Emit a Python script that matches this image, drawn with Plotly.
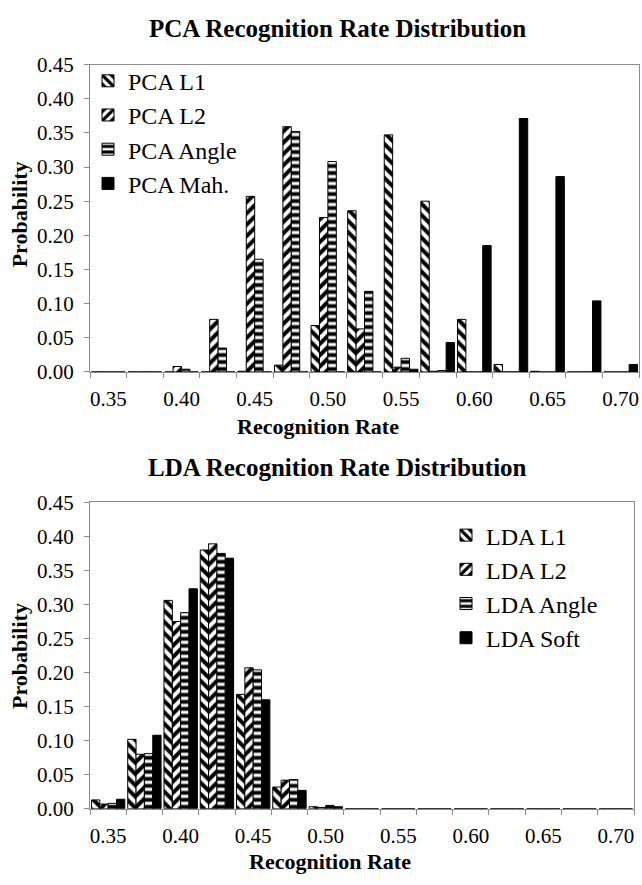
import plotly.graph_objects as go

W, H = 642, 885

# Category centres (recognition rate bins) and tick labels
rates = [0.35, 0.375, 0.40, 0.425, 0.45, 0.475, 0.50, 0.525, 0.55, 0.575,
         0.60, 0.625, 0.65, 0.675, 0.70]
tick_vals = [0.35, 0.40, 0.45, 0.50, 0.55, 0.60, 0.65, 0.70]
tick_text = ["0.35", "0.40", "0.45", "0.50", "0.55", "0.60", "0.65", "0.70"]
y_ticks = [0.00, 0.05, 0.10, 0.15, 0.20, 0.25, 0.30, 0.35, 0.40, 0.45]

# PCA series
pca_l1 = [0, 0, 0, 0, 0.001, 0.010, 0.068, 0.236, 0.347, 0.250, 0.077, 0.011, 0.001, 0, 0]
pca_l2 = [0, 0, 0.008, 0.077, 0.257, 0.359, 0.226, 0.063, 0.007, 0.001, 0, 0, 0, 0, 0]
pca_angle = [0, 0, 0.004, 0.035, 0.165, 0.352, 0.308, 0.118, 0.020, 0.002, 0, 0, 0, 0, 0]
pca_mah = [0, 0, 0, 0, 0, 0, 0, 0, 0.004, 0.043, 0.185, 0.371, 0.286, 0.104, 0.011]

# LDA series
lda_l1 = [0.013, 0.102, 0.306, 0.380, 0.168, 0.032, 0.003, 0, 0, 0, 0, 0, 0, 0, 0]
lda_l2 = [0.007, 0.080, 0.275, 0.389, 0.207, 0.042, 0.002, 0, 0, 0, 0, 0, 0, 0, 0]
lda_angle = [0.008, 0.081, 0.288, 0.375, 0.204, 0.043, 0.005, 0, 0, 0, 0, 0, 0, 0, 0]
lda_soft = [0.014, 0.108, 0.323, 0.368, 0.160, 0.027, 0.003, 0, 0, 0, 0, 0, 0, 0, 0]

pca_names = ["PCA L1", "PCA L2", "PCA Angle", "PCA Mah."]
lda_names = ["LDA L1", "LDA L2", "LDA Angle", "LDA Soft"]

FONT = "Liberation Serif"
patterns = [
    dict(shape="\\", fgcolor="black", bgcolor="white", size=8, solidity=0.5, fillmode="replace"),
    dict(shape="/", fgcolor="black", bgcolor="white", size=8, solidity=0.5, fillmode="replace"),
    dict(shape="-", fgcolor="black", bgcolor="white", size=7, solidity=0.55, fillmode="replace"),
    None,
]

fig = go.Figure()

def add_group(series, names, xa, ya, legend):
    for vals, name, pat in zip(series, names, patterns):
        marker = dict(color="black" if pat is None else "white",
                      line=dict(color="black", width=1))
        if pat is not None:
            marker["pattern"] = pat
        fig.add_trace(go.Bar(x=rates, y=vals, name=name, xaxis=xa, yaxis=ya,
                             marker=marker, legend=legend))

add_group([pca_l1, pca_l2, pca_angle, pca_mah], pca_names, "x", "y", "legend")
add_group([lda_l1, lda_l2, lda_angle, lda_soft], lda_names, "x2", "y2", "legend2")

boundaries = [0.3375 + 0.025 * i for i in range(16)]

def xaxis_cfg(domain, anchor):
    return dict(domain=domain, anchor=anchor, range=[0.3375, 0.7125],
                tickmode="array", tickvals=tick_vals, ticktext=tick_text,
                ticks="", showgrid=False, zeroline=False,
                showline=True, linecolor="#8c8c8c", linewidth=1, mirror=True,
                tickfont=dict(family=FONT, size=21, color="black"),
                ticklabelstandoff=8,
                minor=dict(tickmode="array", tickvals=boundaries, ticks="outside",
                           ticklen=5, tickcolor="#8c8c8c", showgrid=False))

def yaxis_cfg(domain, anchor):
    return dict(domain=domain, anchor=anchor, range=[0, 0.45],
                tickmode="array", tickvals=y_ticks, tickformat=".2f",
                ticks="outside", ticklen=5, tickcolor="#8c8c8c",
                showgrid=False, zeroline=False,
                showline=True, linecolor="#8c8c8c", linewidth=1, mirror=True,
                tickfont=dict(family=FONT, size=21, color="black"),
                ticklabelstandoff=6)

fig.update_layout(
    width=W, height=H,
    margin=dict(l=0, r=0, t=0, b=0),
    paper_bgcolor="white", plot_bgcolor="white",
    barmode="group", bargap=0.08, bargroupgap=0,
    font=dict(family=FONT, color="black"),
    xaxis=xaxis_cfg([90 / W, 639 / W], "y"),
    yaxis=yaxis_cfg([1 - 370 / H, 1 - 54 / H], "x"),
    xaxis2=xaxis_cfg([90 / W, 634 / W], "y2"),
    yaxis2=yaxis_cfg([1 - 819 / H, 1 - 504 / H], "x2"),
    legend=dict(x=88 / W, y=1 - 48 / H, xanchor="left", yanchor="top",
                bgcolor="rgba(0,0,0,0)", font=dict(family=FONT, size=24, color="black"),
                itemwidth=30, tracegroupgap=0),
    legend2=dict(x=446 / W, y=1 - 515 / H, xanchor="left", yanchor="top",
                 bgcolor="rgba(0,0,0,0)", font=dict(family=FONT, size=24, color="black"),
                 itemwidth=30, tracegroupgap=0),
    showlegend=True,
)

title_font = dict(family=FONT, size=25, color="black")
axis_title_font = dict(family=FONT, size=22, color="black")
ann = [
    dict(text="<b>PCA Recognition Rate Distribution</b>", x=337.5 / W, y=1 - 17 / H, font=title_font),
    dict(text="<b>LDA Recognition Rate Distribution</b>", x=337.5 / W, y=1 - 468 / H, font=title_font),
    dict(text="<b>Recognition Rate</b>", x=318 / W, y=1 - 426 / H, font=axis_title_font),
    dict(text="<b>Recognition Rate</b>", x=330 / W, y=1 - 873 / H, font=axis_title_font),
    dict(text="<b>Probability</b>", x=19 / W, y=1 - 208 / H, textangle=-90, font=axis_title_font),
    dict(text="<b>Probability</b>", x=19 / W, y=1 - 662 / H, textangle=-90, font=axis_title_font),
]
for a in ann:
    fig.add_annotation(xref="paper", yref="paper", xanchor="center", yanchor="middle",
                       showarrow=False, **a)

fig.write_html("out.html", config={"displayModeBar": False},
               post_script="document.body.style.margin='0px';document.body.style.overflow='hidden';")
